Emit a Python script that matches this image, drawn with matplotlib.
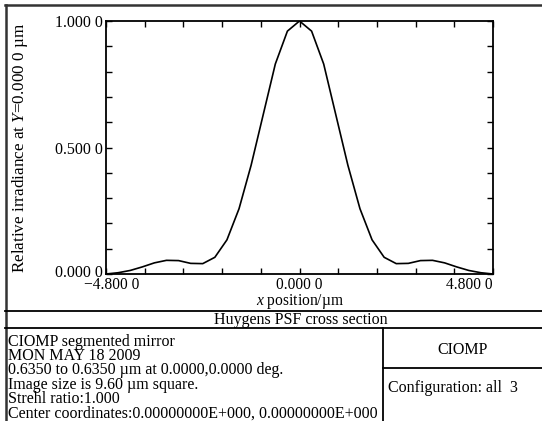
import matplotlib
matplotlib.use("Agg")
import matplotlib.pyplot as plt
from matplotlib.lines import Line2D
import matplotlib.transforms as mtransforms

plt.rcParams['font.family'] = ['Liberation Serif', 'DejaVu Serif']
plt.rcParams['mathtext.fontset'] = 'custom'
plt.rcParams['mathtext.rm'] = 'Liberation Serif'
plt.rcParams['mathtext.it'] = 'Liberation Serif:italic'

# ---- data ----
x_pos = [-4.8, -4.5, -4.2, -3.9, -3.6, -3.3, -3.0, -2.7, -2.4, -2.1, -1.8, -1.5,
         -1.2, -0.9, -0.6, -0.3, 0.0, 0.3, 0.6, 0.9, 1.2, 1.5, 1.8, 2.1, 2.4,
         2.7, 3.0, 3.3, 3.6, 3.9, 4.2, 4.5, 4.8]
irradiance = [0.000, 0.005, 0.014, 0.028, 0.044, 0.054, 0.053, 0.042, 0.041, 0.066,
              0.135, 0.258, 0.430, 0.630, 0.830, 0.960, 1.000, 0.960, 0.830, 0.630,
              0.430, 0.258, 0.135, 0.066, 0.041, 0.042, 0.053, 0.054, 0.044, 0.028,
              0.014, 0.005, 0.000]
x_ticks = [-4.8, -3.84, -2.88, -1.92, -0.96, 0.0, 0.96, 1.92, 2.88, 3.84, 4.8]
x_tick_labels = ['\u22124.800 0', '', '', '', '', '0.000 0', '', '', '', '', '4.800 0']
y_ticks = [0.0, 0.1, 0.2, 0.3, 0.4, 0.5, 0.6, 0.7, 0.8, 0.9, 1.0]
y_tick_labels = ['0.000 0', '', '', '', '', '0.500 0', '', '', '', '', '1.000 0']
info_lines = ["CIOMP segmented mirror",
              "MON MAY 18 2009",
              "0.6350 to 0.6350 \u00b5m at 0.0000,0.0000 deg.",
              "Image size is 9.60 \u00b5m square.",
              "Strehl ratio:1.000",
              "Center coordinates:0.00000000E+000, 0.00000000E+000"]

W, H = 542, 421
fig = plt.figure(figsize=(W / 100, H / 100), dpi=100)

def fx(x):
    return x / W

def fy(y):
    return 1 - y / H

FS = 11.5

ax = fig.add_axes([fx(106), fy(274), (493 - 106) / W, (274 - 21) / H])
ax.plot(x_pos, irradiance, color='black', lw=1.2)
ax.set_xlim(-4.8, 4.8)
ax.set_ylim(0, 1.0)
ax.set_xticks(x_ticks)
ax.set_xticklabels(x_tick_labels)
ax.set_yticks(y_ticks)
ax.set_yticklabels(y_tick_labels)
ax.tick_params(direction='in', length=4, width=1, top=True, right=True,
               labelsize=FS, colors='black')
ax.tick_params(axis='y', pad=2)
ax.tick_params(axis='x', pad=2.5, labelsize=11.2)
for s in ax.spines.values():
    s.set_linewidth(1.3)

labs = ax.get_xticklabels()
labs[0].set_transform(labs[0].get_transform() +
                      mtransforms.ScaledTranslation(6 / 100, 0, fig.dpi_scale_trans))
labs[-1].set_horizontalalignment('right')
ylabs = ax.get_yticklabels()
ylabs[0].set_transform(ylabs[0].get_transform() +
                       mtransforms.ScaledTranslation(0, 3 / 100, fig.dpi_scale_trans))

fig.text(fx(300), fy(301.5), '$\\mathit{x}$ position/\u00b5m', ha='center', va='center',
         fontsize=11.2)
fig.text(fx(20), fy(148), 'Relative irradiance at $\\mathit{Y}$=0.000 0 \u00b5m',
         rotation=90, ha='center', va='center', fontsize=12.3)

# frame lines
fc = '#333333'
def hline(y, x0, x1, lw=1.3, c='black'):
    fig.add_artist(Line2D([fx(x0), fx(x1)], [fy(y), fy(y)], color=c, lw=lw))

def vline(x, y0, y1, lw=1.3, c='black'):
    fig.add_artist(Line2D([fx(x), fx(x)], [fy(y0), fy(y1)], color=c, lw=lw))

hline(5, 5, W + 2, lw=1.8, c=fc)
vline(5.5, 5, H + 2, lw=1.8, c=fc)
hline(311, 5, W + 2)
hline(328, 5, W + 2)
vline(383, 328, H + 2)
hline(368, 383, W + 2)

fig.text(fx(301), fy(320), 'Huygens PSF cross section', ha='center', va='center', fontsize=FS)
fig.text(fx(463), fy(350), 'CIOMP', ha='center', va='center', fontsize=FS)
fig.text(fx(388), fy(388), 'Configuration: all  3', ha='left', va='center', fontsize=FS)

fig.text(fx(8), fy(377.5), '\n'.join(info_lines), ha='left', va='center',
         fontsize=FS, linespacing=0.855)

fig.savefig('out.png', dpi=100)
